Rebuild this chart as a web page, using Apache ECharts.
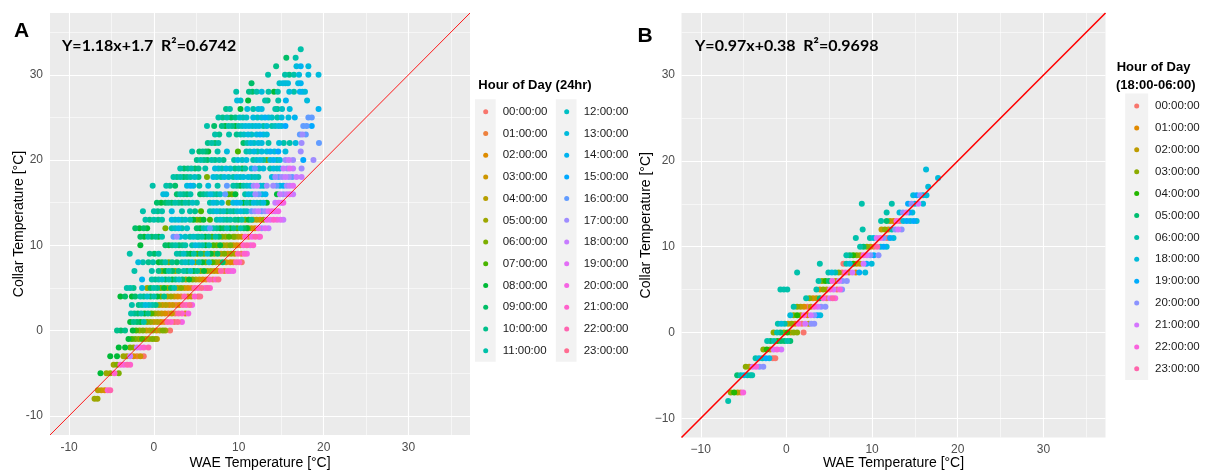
<!DOCTYPE html>
<html>
<head>
<meta charset="utf-8">
<script src="https://cdn.jsdelivr.net/npm/echarts@6/dist/echarts.min.js"></script>
<style>
html,body{margin:0;padding:0;background:#fff;}
#chart{width:1205px;height:473px;}
</style>
</head>
<body>
<div id="chart"></div>
<script>
// ---------- data ----------
const axisRange = [-12.25, 37.25];
const majorTicks = [-10, 0, 10, 20, 30];
const minorTicks = [-5, 5, 15, 25, 35];
const hoursA = ['00:00:00','01:00:00','02:00:00','03:00:00','04:00:00','05:00:00','06:00:00','07:00:00','08:00:00','09:00:00','10:00:00','11:00:00','12:00:00','13:00:00','14:00:00','15:00:00','16:00:00','17:00:00','18:00:00','19:00:00','20:00:00','21:00:00','22:00:00','23:00:00'];
const hoursB = ['00:00:00','01:00:00','02:00:00','03:00:00','04:00:00','05:00:00','06:00:00','18:00:00','19:00:00','20:00:00','21:00:00','22:00:00','23:00:00'];
const hourNumsB = [0,1,2,3,4,5,6,18,19,20,21,22,23];
const fitTextA = 'Y=1.18x+1.7  R\u00B2=0.6742';
const fitTextB = 'Y=0.97x+0.38  R\u00B2=0.9698';

// Panel A: [collar temp, [[WAE temp, hour], ...]]
const rowsA = [
[33, [[17.3,11]]],
[32, [[15.6,9],[16.7,11]]],
[31, [[14.4,10],[16.8,13],[17.3,14],[18.2,13]]],
[30, [[13.45,11],[15.45,11],[15.95,10],[16.5,11],[17.1,13],[18.2,13],[19.4,13]]],
[29, [[11.5,9],[14.8,12],[15.2,13],[15.5,12],[15.8,13],[17.0,13],[17.3,14]]],
[28, [[9.7,11],[11.2,10],[11.6,9],[12.1,11],[12.7,13],[13.5,11],[14.15,8],[14.6,11],[15.95,13],[16.5,11],[17.2,14],[17.5,13],[17.8,13]]],
[27, [[9.8,13],[10.2,12],[11.1,8],[13.1,11],[13.4,10],[14.65,11],[15.55,14],[18.05,13]]],
[26, [[8.5,10],[8.95,11],[10.2,8],[11.0,13],[11.7,11],[12.3,13],[12.7,13],[14.3,11],[14.55,10],[15.1,12],[16.0,13],[19.4,14]]],
[25, [[7.6,11],[8.1,10],[8.6,11],[9.1,9],[9.6,10],[10.1,12],[10.5,11],[10.9,12],[11.7,13],[12.2,12],[12.7,13],[13.1,14],[13.5,13],[13.9,12],[14.55,11],[15.05,13],[15.85,13],[16.6,14],[18.2,16],[18.6,16]]],
[24, [[6.25,11],[7.1,9],[8.0,10],[8.4,8],[8.8,11],[9.2,10],[9.6,8],[10.0,11],[10.4,12],[10.8,13],[11.2,13],[11.6,12],[12.0,13],[12.4,13],[12.9,11],[13.3,13],[13.9,11],[14.3,12],[14.7,13],[15.05,13],[15.5,15],[17.6,16],[18.0,16],[18.6,15]]],
[23, [[7.2,11],[7.7,10],[8.85,11],[9.75,10],[10.2,11],[10.6,12],[11.1,13],[11.5,12],[12.1,13],[12.5,14],[12.9,13],[13.3,13],[17.2,16],[17.5,17],[17.9,16]]],
[22, [[6.35,10],[6.8,11],[7.2,9],[7.6,11],[10.55,9],[11.0,11],[11.4,13],[11.8,12],[12.3,13],[12.7,13],[13.5,11],[14.75,13],[15.3,11],[16.0,11],[16.7,13],[17.4,17],[19.45,16]]],
[21, [[4.5,11],[5.35,9],[5.75,10],[6.1,9],[6.4,8],[7.5,11],[8.6,13],[9.9,7],[10.9,11],[11.3,12],[11.8,13],[12.2,11],[12.7,13],[13.3,13],[13.7,14],[14.2,13],[14.65,15],[15.5,13],[17.3,17]]],
[20, [[5.05,10],[5.5,11],[5.9,10],[6.3,9],[6.8,11],[7.2,10],[7.7,11],[8.2,10],[9.45,11],[9.9,13],[10.4,12],[10.9,13],[11.7,11],[12.1,12],[12.5,13],[12.9,11],[13.3,6],[13.7,13],[14.1,14],[14.5,11],[14.85,13],[15.5,17],[15.9,18],[16.4,17],[17.6,15],[18.8,17]]],
[19, [[3.1,11],[3.55,9],[4.0,10],[4.4,11],[4.85,9],[5.25,10],[6.05,11],[7.2,13],[7.6,12],[8.0,11],[8.5,13],[9.0,12],[9.55,10],[10.0,11],[10.4,8],[10.75,11],[11.5,13],[11.9,16],[12.4,12],[12.9,13],[13.7,11],[14.1,13],[14.5,12],[14.85,13],[15.25,18],[15.7,17],[16.0,19],[16.4,18],[17.4,17]]],
[18, [[2.3,11],[2.7,10],[3.1,11],[3.5,9],[3.9,10],[4.3,11],[4.8,12],[5.25,10],[6.25,6],[7.0,13],[7.4,12],[7.9,11],[8.3,13],[8.8,12],[9.35,11],[9.75,13],[10.15,12],[10.55,13],[11.1,13],[11.5,11],[11.9,12],[12.3,11],[13.9,13],[14.3,17],[14.7,16],[15.1,17],[15.5,18],[15.9,17],[16.3,16],[16.8,18],[17.4,18]]],
[17, [[-0.15,11],[1.45,11],[1.9,10],[2.5,9],[3.9,13],[4.3,14],[4.65,13],[5.35,11],[6.4,13],[7.5,11],[8.6,16],[9.35,11],[9.75,10],[10.15,8],[10.55,11],[10.95,12],[11.35,13],[11.75,17],[12.15,18],[12.55,13],[12.9,12],[13.3,17],[14.05,17],[14.45,16],[14.85,13],[15.25,14],[15.65,17],[16.0,18],[16.4,19]]],
[16, [[1.1,13],[1.45,13],[2.7,9],[3.1,11],[3.5,10],[3.9,9],[4.3,11],[5.45,9],[5.85,10],[6.25,11],[6.65,13],[7.0,11],[7.4,10],[7.8,12],[8.4,16],[8.8,7],[9.2,6],[9.6,8],[10.75,11],[11.15,13],[11.55,12],[11.95,17],[12.35,16],[12.75,13],[13.15,14],[14.5,8],[14.85,18],[15.25,17],[15.65,18],[16.0,19],[16.4,18]]],
[15, [[0.35,9],[0.85,8],[1.35,9],[1.7,10],[2.1,9],[2.5,11],[2.9,10],[3.3,9],[3.7,11],[4.1,10],[4.55,12],[5.05,11],[6.6,11],[7.0,13],[7.4,12],[8.0,13],[8.8,6],[9.35,13],[9.75,14],[10.15,13],[10.55,8],[10.95,11],[11.35,9],[11.75,13],[12.15,12],[12.55,11],[12.9,13],[13.3,8],[14.3,18],[14.7,19],[15.05,18],[15.25,20]]],
[14, [[-1.3,11],[0.0,11],[0.45,10],[0.95,11],[2.1,13],[3.3,11],[4.25,11],[4.85,10],[5.55,7],[6.6,11],[7.0,12],[7.4,13],[7.8,11],[8.2,12],[8.6,9],[9.0,11],[9.4,10],[9.8,12],[10.2,13],[10.6,11],[10.95,12],[11.5,16],[11.9,17],[12.3,18],[12.7,16],[13.1,17],[13.5,19],[13.9,20],[14.3,19],[14.65,20]]],
[13, [[-1.0,11],[-0.5,10],[0.0,11],[0.5,10],[0.95,11],[2.1,13],[2.5,12],[2.9,13],[3.3,11],[3.7,12],[4.25,11],[4.65,8],[5.05,6],[5.45,7],[5.85,8],[6.6,7],[7.4,11],[7.8,12],[8.2,11],[8.6,10],[9.0,11],[9.55,10],[9.95,9],[10.35,11],[10.75,6],[11.15,8],[11.5,10],[11.7,3],[12.1,4],[12.5,2],[12.9,5],[13.3,20],[13.7,19],[14.1,21],[14.5,20],[14.9,19],[15.25,18]]],
[12, [[-2.2,9],[-1.7,8],[-1.2,9],[-0.8,8],[1.35,6],[2.1,11],[2.5,12],[2.9,13],[3.3,11],[3.9,12],[5.05,9],[5.45,8],[5.85,11],[6.25,12],[6.6,16],[7.0,11],[7.4,10],[7.8,8],[8.2,9],[8.6,11],[9.0,8],[9.4,10],[9.8,7],[10.2,11],[10.6,9],[10.95,8],[11.1,6],[11.5,3],[11.9,2],[12.3,20],[12.7,17],[13.1,19],[13.5,18]]],
[11, [[-1.6,9],[-1.15,8],[-0.7,11],[-0.25,9],[0.2,10],[0.55,8],[0.95,11],[2.3,16],[2.7,17],[3.1,13],[3.7,12],[4.25,11],[4.65,12],[5.05,11],[5.25,10],[5.65,11],[6.05,8],[6.45,10],[6.85,7],[7.25,11],[7.65,9],[8.05,6],[8.45,5],[8.85,7],[9.35,6],[9.55,5],[9.95,4],[10.35,2],[10.75,21],[11.15,1],[11.55,20],[11.95,22],[12.35,19],[12.5,21]]],
[10, [[-1.6,8],[1.35,9],[1.75,8],[2.15,10],[2.55,11],[2.95,9],[3.35,10],[3.7,11],[4.5,11],[4.9,13],[5.3,12],[5.7,11],[6.1,8],[6.5,11],[7.0,7],[7.4,6],[7.8,8],[8.2,5],[8.6,4],[9.0,6],[9.35,3],[9.75,2],[10.15,1],[10.55,21],[10.95,22],[11.35,20],[11.7,21]]],
[9, [[-2.85,11],[-0.5,10],[0.05,9],[0.55,11],[2.7,11],[3.1,10],[3.5,12],[3.9,9],[4.3,8],[4.7,11],[5.1,7],[5.5,10],[5.9,6],[6.3,12],[6.7,8],[7.1,5],[7.5,9],[7.9,4],[8.3,6],[8.7,2],[9.1,5],[9.5,3],[9.9,22],[10.3,1],[10.65,21],[10.95,20]]],
[8, [[-1.85,13],[-1.3,11],[-0.65,10],[-0.1,11],[0.55,8],[0.95,9],[1.35,11],[1.75,6],[2.15,10],[2.7,9],[3.3,11],[3.7,12],[4.1,10],[4.5,13],[4.9,5],[5.3,11],[5.7,8],[6.1,6],[6.5,12],[6.9,7],[7.3,5],[7.7,4],[8.1,9],[8.5,3],[9.0,2],[9.35,1],[9.7,22],[10.05,21],[10.35,0]]],
[7, [[-2.3,11],[-0.25,11],[0.55,10],[0.95,6],[1.35,8],[1.75,11],[2.15,9],[2.5,5],[2.9,10],[3.5,11],[3.9,9],[4.3,12],[4.7,8],[5.1,10],[5.5,6],[5.9,8],[6.3,5],[6.7,4],[7.1,3],[7.5,2],[7.9,22],[8.3,1],[8.7,21],[9.0,19],[9.35,20]]],
[6, [[-1.4,14],[-0.25,11],[0.15,10],[0.55,11],[0.95,12],[1.35,9],[1.75,11],[2.15,8],[2.55,10],[2.95,12],[3.35,9],[3.75,5],[4.15,8],[4.55,6],[4.95,4],[5.35,3],[5.75,2],[6.15,1],[6.55,22],[6.95,0],[7.3,21],[7.6,23]]],
[5, [[-3.2,11],[-2.8,11],[-2.4,10],[-1.4,13],[-0.8,5],[-0.4,9],[0.0,11],[0.4,10],[0.8,6],[1.2,8],[1.6,5],[2.0,9],[2.4,11],[2.8,4],[3.2,6],[3.6,3],[4.0,2],[4.4,1],[4.8,22],[5.2,21],[5.6,23],[6.0,20],[6.3,22],[6.6,21]]],
[4, [[-3.95,8],[-3.4,9],[-2.6,8],[-2.2,9],[-1.6,11],[-1.2,10],[-0.8,12],[-0.4,9],[0.0,11],[0.4,8],[0.8,6],[1.2,10],[1.6,4],[2.0,5],[2.4,3],[2.8,2],[3.2,1],[3.6,22],[4.0,2],[4.4,3],[4.8,21],[5.2,0],[5.45,23]]],
[3, [[-2.6,11],[-1.8,10],[-1.4,11],[-1.0,13],[-0.6,12],[-0.2,11],[0.2,10],[0.6,5],[1.0,3],[1.4,4],[1.8,2],[2.2,3],[2.6,1],[3.0,2],[3.4,22],[3.8,21],[4.2,23],[4.5,20]]],
[2, [[-2.7,11],[-2.3,10],[-1.9,9],[-1.5,11],[-1.1,8],[-0.7,10],[-0.3,7],[0.1,5],[0.5,4],[0.9,3],[1.3,2],[1.7,1],[2.1,3],[2.5,0],[2.9,22],[3.3,21],[3.7,2],[4.05,20]]],
[1, [[-2.8,8],[-2.4,10],[-2.0,9],[-1.6,8],[-1.2,11],[-0.8,6],[-0.4,5],[0.0,3],[0.4,4],[0.8,2],[1.2,1],[1.6,22],[2.0,21],[2.4,0],[2.8,23],[3.3,20]]],
[0, [[-4.35,10],[-3.9,9],[-3.4,10],[-2.5,8],[-2.1,7],[-1.7,5],[-1.3,6],[-0.9,3],[-0.5,4],[-0.1,5],[0.3,2],[0.7,4],[1.05,6],[1.35,5],[1.9,0]]],
[-1, [[-3.0,8],[-2.6,7],[-2.2,6],[-1.8,5],[-1.4,7],[-1.0,4],[-0.6,5],[-0.2,6],[0.15,5],[0.35,4]]],
[-2, [[-4.15,8],[-3.4,8],[-2.8,6],[-2.4,5],[-2.0,18],[-1.6,20],[-1.2,21],[-0.65,22]]],
[-3, [[-5.15,8],[-4.35,8],[-3.6,5],[-3.2,4],[-2.8,18],[-2.4,2],[-2.0,1],[-1.6,3],[-1.2,0]]],
[-4, [[-4.75,5],[-4.35,6],[-3.95,21],[-3.55,20],[-3.15,22],[-2.8,21]]],
[-5, [[-6.3,8],[-5.6,5],[-5.15,5],[-4.65,21],[-4.15,6]]],
[-7, [[-6.6,4],[-6.2,3],[-5.8,2],[-5.45,21],[-5.15,22]]],
[-8, [[-7.0,5],[-6.65,5]]]
];

// Panel B: [collar temp, [[WAE temp, hour], ...]]
const rowsB = [
[19, [[16.3,18]]],
[18, [[17.7,18]]],
[17, [[16.55,18]]],
[16, [[14.8,18],[15.2,19],[15.6,20],[15.95,18],[16.35,18]]],
[15, [[8.8,6],[12.3,6],[14.2,19],[14.6,20],[15.0,18],[15.4,21],[15.95,18]]],
[14, [[11.7,6],[13.2,18],[13.6,20],[14.0,21],[14.35,19],[14.7,18]]],
[13, [[11.05,6],[11.7,5],[12.1,2],[12.5,1],[12.85,22],[13.25,0],[13.65,18],[14.05,19],[14.45,18],[14.85,19],[15.2,18]]],
[12, [[8.9,6],[11.1,2],[11.5,3],[11.9,1],[12.3,6],[12.7,20],[13.05,21],[13.45,20]]],
[11, [[8.1,6],[9.75,6],[10.15,18],[10.55,21],[10.95,22],[11.35,20],[11.75,0],[12.1,19],[12.5,18]]],
[10, [[8.6,6],[9.0,5],[9.4,3],[9.8,2],[10.2,0],[10.6,23],[11.0,18],[11.35,19],[11.7,18]]],
[9, [[7.0,6],[7.4,5],[7.8,4],[8.2,3],[8.6,2],[9.0,22],[9.4,21],[9.8,20],[10.2,19],[10.75,20]]],
[8, [[3.9,6],[6.65,0],[7.0,6],[7.4,18],[7.8,4],[8.2,1],[8.6,2],[9.0,21],[9.35,19],[9.95,18]]],
[7, [[1.25,6],[4.9,6],[5.3,18],[5.7,6],[6.1,3],[6.5,0],[6.9,22],[7.3,2],[7.7,21],[8.1,1],[8.5,19],[9.2,18]]],
[6, [[3.75,6],[4.15,3],[4.55,4],[4.95,5],[5.35,22],[5.75,2],[6.15,21],[6.55,20],[7.05,20]]],
[5, [[-0.7,6],[-0.3,6],[0.1,6],[3.5,6],[3.9,1],[4.3,3],[4.7,2],[5.1,22],[5.5,21],[5.9,0],[6.25,22],[6.5,20]]],
[4, [[2.3,6],[2.7,3],[3.1,1],[3.5,2],[3.9,5],[4.3,22],[4.7,0],[5.1,21],[5.4,23],[5.7,22]]],
[3, [[0.85,6],[1.25,3],[1.65,2],[2.05,1],[2.45,0],[2.85,2],[3.25,22],[3.65,21],[4.05,20],[4.55,20]]],
[2, [[0.45,18],[0.85,3],[1.25,4],[1.65,2],[2.05,22],[2.45,1],[2.85,21],[3.25,20],[3.6,19],[3.95,18]]],
[1, [[-1.0,6],[-0.6,18],[-0.2,6],[0.2,2],[0.6,3],[1.0,1],[1.4,22],[1.8,0],[2.2,21],[2.6,2],[2.9,20],[3.25,20]]],
[0, [[-1.5,3],[-1.1,6],[-0.7,5],[-0.3,3],[0.1,4],[0.5,2],[0.85,3],[1.25,3],[2.0,0]]],
[-1, [[-2.25,6],[-1.85,5],[-1.45,6],[-1.05,4],[-0.65,5],[-0.25,5],[0.1,6],[0.45,5]]],
[-2, [[-2.7,3],[-2.3,4],[-1.9,2],[-1.5,21],[-1.1,22],[-0.6,21]]],
[-3, [[-3.6,6],[-3.2,18],[-2.8,6],[-2.4,19],[-2.0,18],[-1.6,0],[-1.3,0]]],
[-4, [[-4.75,3],[-4.35,2],[-3.95,21],[-3.55,22],[-3.15,20],[-2.7,20]]],
[-5, [[-5.75,5],[-5.35,6],[-4.95,18],[-4.55,6],[-4.2,6],[-4.0,6]]],
[-7, [[-6.5,3],[-6.1,4],[-5.7,2],[-5.35,0],[-5.05,22]]],
[-8, [[-6.8,6]]]
];

// ---------- styling helpers ----------
function hclHex(h, c, l) {
  const d = Math.PI / 180;
  const U = c * Math.cos(h * d), V = c * Math.sin(h * d);
  const Xn = 95.047, Yn = 100, Zn = 108.883;
  const Y = l > 8 ? Yn * Math.pow((l + 16) / 116, 3) : Yn * l / 903.3;
  const den = Xn + 15 * Yn + 3 * Zn;
  const un = 4 * Xn / den, vn = 9 * Yn / den;
  const u = U / (13 * l) + un, v = V / (13 * l) + vn;
  const X = 9 * Y * u / (4 * v);
  const Z = -X / 3 - 5 * Y + 3 * Y / v;
  const x = X / 100, y = Y / 100, z = Z / 100;
  const lin = [
    3.240479 * x - 1.537150 * y - 0.498535 * z,
    -0.969256 * x + 1.875992 * y + 0.041556 * z,
    0.055648 * x - 0.204043 * y + 1.057311 * z
  ];
  return '#' + lin.map(t => {
    let g = t <= 0.0031308 ? 12.92 * t : 1.055 * Math.pow(t, 1 / 2.4) - 0.055;
    g = Math.max(0, Math.min(1, g));
    return Math.round(g * 255).toString(16).padStart(2, '0');
  }).join('');
}
function huePal(n) {
  const out = [];
  for (let i = 0; i < n; i++) out.push(hclHex(15 + 360 * i / n, 100, 65));
  return out;
}
const colorsA = huePal(24);
const colorsB = huePal(13);
const FONT = '"Liberation Sans", Arial, sans-serif';

function pointsFor(rows, hour) {
  const out = [];
  rows.forEach(([y, pts]) => pts.forEach(([x, h]) => { if (h === hour) out.push([x, y]); }));
  return out;
}

function gridMarkLine() {
  const d = [];
  majorTicks.forEach(v => { d.push({ xAxis: v, lineStyle: { width: 1.1 } }); d.push({ yAxis: v, lineStyle: { width: 1.1 } }); });
  minorTicks.forEach(v => { d.push({ xAxis: v, lineStyle: { width: 0.55 } }); d.push({ yAxis: v, lineStyle: { width: 0.55 } }); });
  return { silent: true, symbol: 'none', z: 1, label: { show: false }, lineStyle: { color: '#FFFFFF', type: 'solid' }, data: d };
}

function makeAxis(isX, idx, nameGap, labelMargin, fmt) {
  return {
    type: 'value', gridIndex: idx, min: axisRange[0], max: axisRange[1],
    name: isX ? 'WAE Temperature [°C]' : 'Collar Temperature [°C]',
    nameLocation: 'middle', nameGap: nameGap, nameMoveOverlap: false,
    nameTextStyle: { fontFamily: FONT, fontSize: 14, color: '#000000' },
    axisLine: { show: false },
    axisTick: { show: true, length: 3.5, customValues: majorTicks, lineStyle: { color: '#333333', width: 1 } },
    axisLabel: { customValues: majorTicks, margin: labelMargin, fontFamily: FONT, fontSize: 12, color: '#4D4D4D', formatter: fmt },
    splitLine: { show: false }
  };
}
const fmtA = v => String(v);
const fmtB = v => String(v).replace('-', '\u2212');

const series = [];
hoursA.forEach((name, h) => {
  series.push({ type: 'scatter', name: 'A ' + name, xAxisIndex: 0, yAxisIndex: 0, symbol: 'circle', symbolSize: 6, z: 3,
    itemStyle: { color: colorsA[h], opacity: 1 }, data: pointsFor(rowsA, h) });
});
hourNumsB.forEach((hr, i) => {
  series.push({ type: 'scatter', name: 'B ' + hoursB[i], xAxisIndex: 1, yAxisIndex: 1, symbol: 'circle', symbolSize: 6, z: 3,
    itemStyle: { color: colorsB[i], opacity: 1 }, data: pointsFor(rowsB, hr) });
});
// identity reference lines (y = x) across the axis range, plus panel grid lines
series.push({ type: 'line', name: 'refA', xAxisIndex: 0, yAxisIndex: 0, z: 5, silent: true, showSymbol: false, symbol: 'none',
  lineStyle: { color: '#FF0000', width: 0.9 }, data: [[axisRange[0], axisRange[0]], [axisRange[1], axisRange[1]]], markLine: gridMarkLine() });
series.push({ type: 'line', name: 'refB', xAxisIndex: 1, yAxisIndex: 1, z: 5, silent: true, showSymbol: false, symbol: 'none',
  lineStyle: { color: '#FF0000', width: 1.6 }, data: [[axisRange[0], axisRange[0]], [axisRange[1], axisRange[1]]], markLine: gridMarkLine() });

const legendText = { fontFamily: FONT, fontSize: 11.5, color: '#1A1A1A', lineHeight: 14 };

const option = {
  animation: false,
  backgroundColor: '#FFFFFF',
  grid: [
    { left: 50, top: 13, width: 420, height: 422, show: true, backgroundColor: '#EBEBEB', borderWidth: 0, containLabel: false, outerBoundsMode: 'none' },
    { left: 681.5, top: 13, width: 424, height: 424.5, show: true, backgroundColor: '#EBEBEB', borderWidth: 0, containLabel: false, outerBoundsMode: 'none' }
  ],
  xAxis: [makeAxis(true, 0, 21, 7, fmtA), makeAxis(true, 1, 18.5, 6, fmtB)],
  yAxis: [makeAxis(false, 0, 24, 7, fmtA), makeAxis(false, 1, 28.5, 6.5, fmtB)],
  legend: [
    { orient: 'vertical', left: 483.2, top: 104.7, height: 258, padding: 0, itemGap: 7.73,
      itemWidth: 5, itemHeight: 5, icon: 'circle', selectedMode: false,
      data: hoursA.map(n => 'A ' + n), formatter: n => n.slice(2),
      textStyle: Object.assign({ padding: [0, 9, 0, 9.5] }, legendText) },
    { orient: 'vertical', left: 1134.2, top: 99, padding: 0, itemGap: 7.9,
      itemWidth: 5, itemHeight: 5, icon: 'circle', selectedMode: false,
      data: hoursB.map(n => 'B ' + n), formatter: n => n.slice(2),
      textStyle: Object.assign({ padding: [0, 0, 0, 10.8] }, legendText) }
  ],
  graphic: [
    { type: 'rect', shape: { x: 475, y: 99.3, width: 20.7, height: 262.4 }, style: { fill: '#F2F2F2' }, z: 0, silent: true },
    { type: 'rect', shape: { x: 555.8, y: 99.3, width: 20.7, height: 262.4 }, style: { fill: '#F2F2F2' }, z: 0, silent: true },
    { type: 'rect', shape: { x: 1125.2, y: 93.5, width: 23, height: 286.5 }, style: { fill: '#F2F2F2' }, z: 0, silent: true },
    { type: 'text', z: 20, x: 14, y: 31, style: { text: 'A', font: 'bold 21px ' + FONT, fill: '#000', verticalAlign: 'middle' } },
    { type: 'text', z: 20, x: 637.5, y: 36, style: { text: 'B', font: 'bold 21px ' + FONT, fill: '#000', verticalAlign: 'middle' } },
    { type: 'text', z: 20, x: 62, y: 46, style: { text: fitTextA, font: 'bold 16px Lato, ' + FONT, fill: '#000', verticalAlign: 'middle' } },
    { type: 'text', z: 20, x: 695, y: 46, style: { text: fitTextB, font: 'bold 16px Lato, ' + FONT, fill: '#000', verticalAlign: 'middle' } },
    { type: 'text', z: 20, x: 478.3, y: 85, style: { text: 'Hour of Day (24hr)', font: 'bold 13px ' + FONT, fill: '#000', verticalAlign: 'middle' } },
    { type: 'text', z: 20, x: 1116.7, y: 67.3, style: { text: 'Hour of Day', font: 'bold 13px ' + FONT, fill: '#000', verticalAlign: 'middle' } },
    { type: 'text', z: 20, x: 1116, y: 85, style: { text: '(18:00-06:00)', font: 'bold 13px ' + FONT, fill: '#000', verticalAlign: 'middle' } }
  ],
  series: series
};

const chart = echarts.init(document.getElementById('chart'), null, { renderer: 'canvas' });
chart.setOption(option);
</script>
</body>
</html>
